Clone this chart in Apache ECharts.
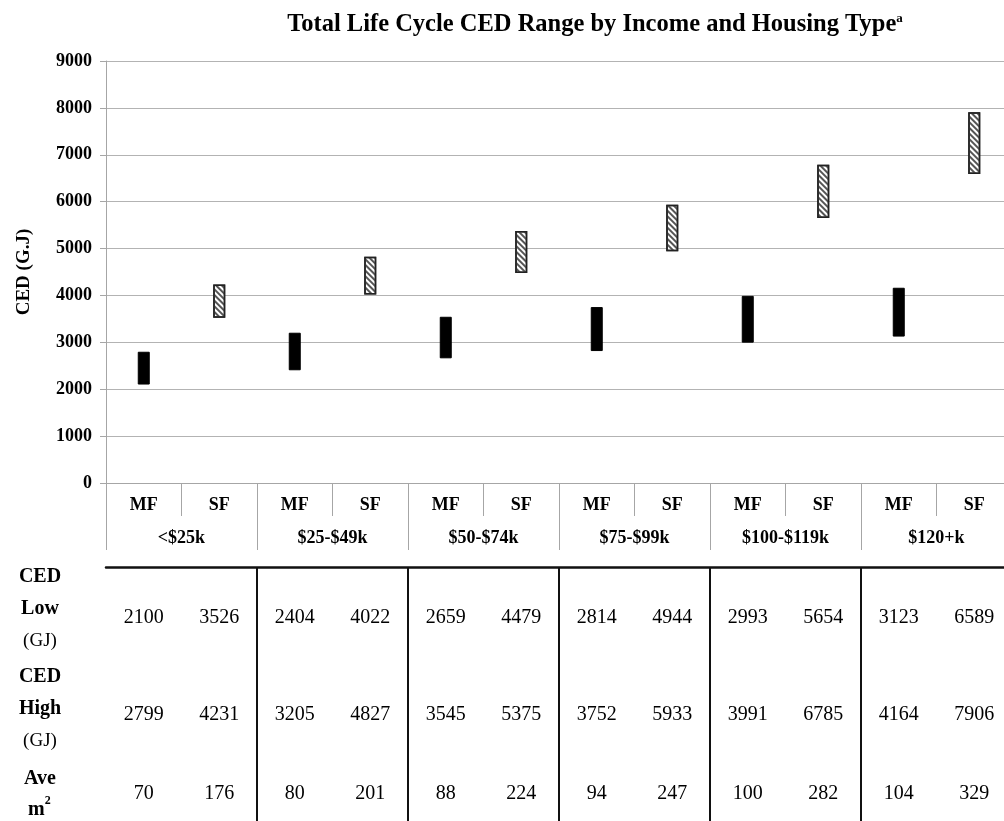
<!DOCTYPE html>
<html>
<head>
<meta charset="utf-8">
<script src="https://cdn.jsdelivr.net/npm/echarts@6/dist/echarts.min.js"></script>
<style>html,body{margin:0;padding:0;background:#fff;overflow:hidden}#c{width:1004px;height:821px}</style>
</head>
<body>
<div id="c"></div>
<script>
var groups = ['<$25k', '$25-$49k', '$50-$74k', '$75-$99k', '$100-$119k', '$120+k'];
var types = ['MF', 'SF'];
var mfLow = [2100, 2404, 2659, 2814, 2993, 3123];
var mfHigh = [2799, 3205, 3545, 3752, 3991, 4164];
var sfLow = [3526, 4022, 4479, 4944, 5654, 6589];
var sfHigh = [4231, 4827, 5375, 5933, 6785, 7906];
var mfArea = [70, 80, 88, 94, 100, 104];
var sfArea = [176, 201, 224, 247, 282, 329];
var yTicks = [0, 1000, 2000, 3000, 4000, 5000, 6000, 7000, 8000, 9000];

var FONT = "'Liberation Serif','Times New Roman',serif";
var GRID_C = '#a6a6a6';

var slots = [], lows = [], ranges = [], lowTxt = [], highTxt = [], areaTxt = [];
groups.forEach(function (g, i) {
  slots.push(types[0], types[1]);
  lows.push(mfLow[i], sfLow[i]);
  ranges.push(
    { value: mfHigh[i] - mfLow[i], itemStyle: { color: '#000', borderColor: '#000', borderWidth: 1 } },
    { value: sfHigh[i] - sfLow[i], itemStyle: {
        color: '#ffffff', borderColor: '#222', borderWidth: 1.5,
        decal: { symbol: 'rect', symbolSize: 1, color: '#555', dashArrayX: [1, 0], dashArrayY: [1.5, 1.6], rotation: Math.PI / 4 }
      } }
  );
  lowTxt.push(String(mfLow[i]), String(sfLow[i]));
  highTxt.push(String(mfHigh[i]), String(sfHigh[i]));
  areaTxt.push(String(mfArea[i]), String(sfArea[i]));
});

function tableAxis(data, margin) {
  return {
    type: 'category', data: data, position: 'bottom', offset: 84,
    axisLine: { show: false }, axisTick: { show: false },
    axisLabel: { interval: 0, margin: margin, fontFamily: FONT, fontSize: 20, color: '#000' },
    splitLine: { show: false }
  };
}

var richB = { fontFamily: FONT, fontSize: 20, fontWeight: 'bold', lineHeight: 32, align: 'center', width: 60 };
var richN = { fontFamily: FONT, fontSize: 19, lineHeight: 32, align: 'center', width: 60 };

var chart = echarts.init(document.getElementById('c'), null, { renderer: 'canvas' });
chart.setOption({
  animation: false,
  backgroundColor: '#fff',
  title: {
    text: 'Total Life Cycle CED Range by Income and Housing Type{s|a}',
    left: 590, top: 7, textAlign: 'center',
    textStyle: {
      fontFamily: FONT, fontSize: 24.5, fontWeight: 'bold', color: '#000',
      rich: { s: { fontFamily: FONT, fontSize: 13, fontWeight: 'bold', color: '#000', verticalAlign: 'top', padding: [0, 0, 11, 0] } }
    }
  },
  grid: { left: 106, width: 906, top: 61, height: 422, containLabel: false, outerBoundsMode: 'none' },
  xAxis: [
    {
      type: 'category', data: slots, position: 'bottom',
      axisLine: { show: true, lineStyle: { color: GRID_C, width: 1 } },
      axisTick: { show: true, interval: 0, length: 33, lineStyle: { color: GRID_C, width: 1 } },
      axisLabel: { interval: 0, margin: 13, fontFamily: FONT, fontSize: 18, fontWeight: 'bold', color: '#000' }
    },
    {
      type: 'category', data: groups, position: 'bottom',
      axisLine: { show: false },
      axisTick: { show: true, interval: 0, length: 67, lineStyle: { color: GRID_C, width: 1 } },
      axisLabel: { interval: 0, margin: 46, fontFamily: FONT, fontSize: 18, fontWeight: 'bold', color: '#000' }
    },
    {
      type: 'category', data: lowTxt, position: 'bottom', offset: 84,
      axisLine: { show: true, lineStyle: { color: '#111', width: 2.5 } },
      axisTick: { show: false },
      axisLabel: { interval: 0, margin: 41, fontFamily: FONT, fontSize: 20, color: '#000' }
    },
    tableAxis(highTxt, 138),
    tableAxis(areaTxt, 217),
    {
      type: 'category', data: groups, position: 'bottom', offset: 84,
      axisLine: { show: false },
      axisTick: { show: true, interval: function (i) { return i !== 0; }, length: 255, lineStyle: { color: '#111', width: 2 } },
      axisLabel: { show: false }
    }
  ],
  yAxis: {
    type: 'value', min: yTicks[0], max: yTicks[yTicks.length - 1], interval: yTicks[1] - yTicks[0],
    name: 'CED (G.J)', nameLocation: 'middle', nameGap: 72, nameRotate: 90,
    nameTextStyle: { fontFamily: FONT, fontSize: 19, fontWeight: 'bold', color: '#000' },
    axisLine: { show: true, lineStyle: { color: GRID_C, width: 1 } },
    axisTick: { show: true, length: 6, lineStyle: { color: GRID_C } },
    axisLabel: { margin: 14, fontFamily: FONT, fontSize: 18, fontWeight: 'bold', color: '#000',
      formatter: function (v) { return String(v); } },
    splitLine: { show: true, lineStyle: { color: '#b3b3b3', width: 1.2 } }
  },
  series: [
    { type: 'bar', xAxisIndex: 0, stack: 'r', data: lows, barWidth: 12, itemStyle: { color: 'rgba(0,0,0,0)' }, silent: true },
    { type: 'bar', xAxisIndex: 0, stack: 'r', data: ranges, barWidth: 12 }
  ],
  graphic: [
    { type: 'text', left: 10, top: 567, style: {
      text: '{b|CED}\n{b|Low}\n{n|(GJ)}', fill: '#000', rich: { b: richB, n: richN } } },
    { type: 'text', left: 10, top: 667, style: {
      text: '{b|CED}\n{b|High}\n{n|(GJ)}', fill: '#000', rich: { b: richB, n: richN } } },
    { type: 'text', left: 10, top: 769, style: {
      text: '{b|Ave}\n{m|m}{s|2}', fill: '#000',
      rich: { b: { fontFamily: FONT, fontSize: 20, fontWeight: 'bold', lineHeight: 31, align: 'center', width: 60 },
              m: { fontFamily: FONT, fontSize: 20, fontWeight: 'bold', lineHeight: 31, padding: [0, 0, 0, 18] },
              s: { fontFamily: FONT, fontSize: 12, fontWeight: 'bold', verticalAlign: 'top', lineHeight: 31, padding: [0, 0, 12, 0] } } } }
  ]
});
</script>
</body>
</html>
